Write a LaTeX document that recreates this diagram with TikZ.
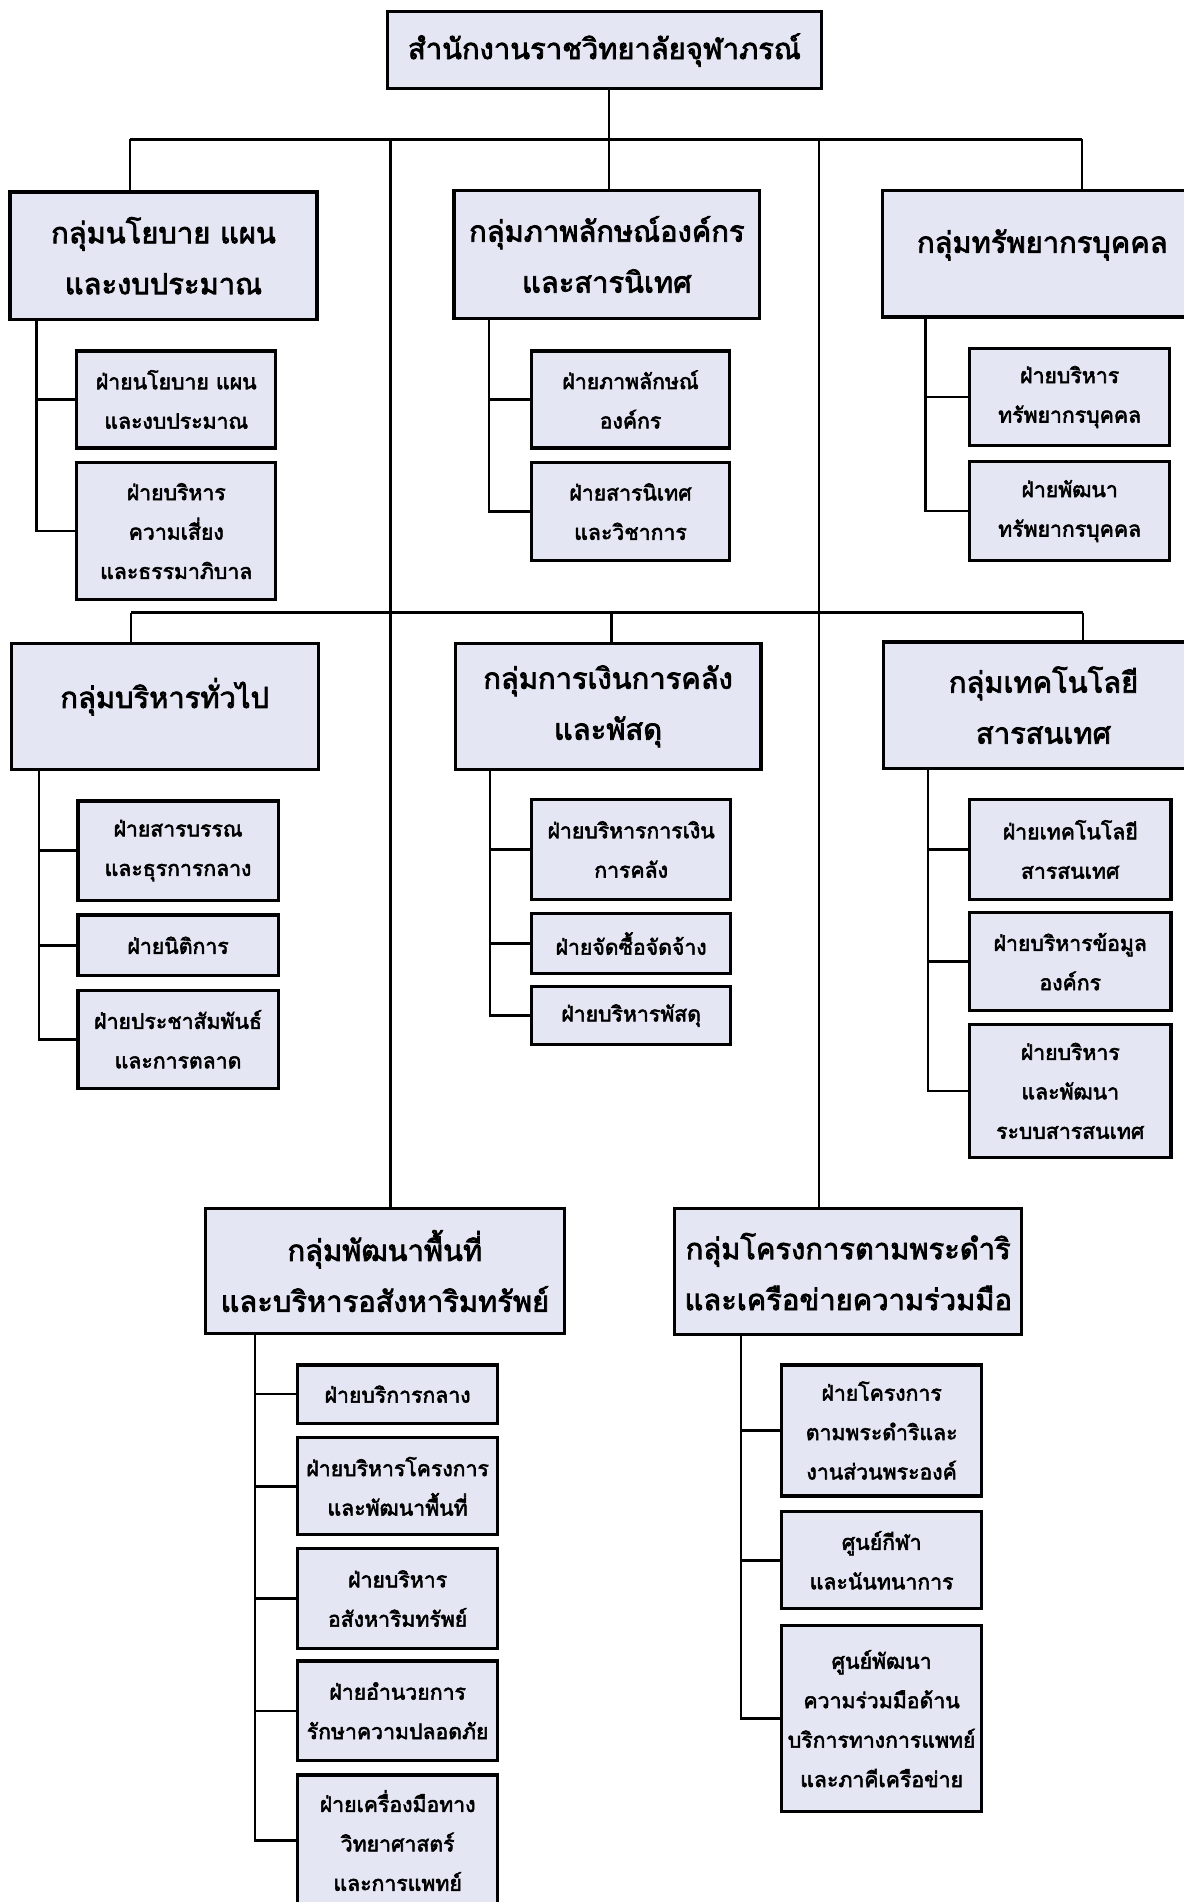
\documentclass[tikz,border=0pt]{standalone}
\usepackage{fontspec}
\newfontfamily\thaifont[Script=Thai,FakeBold=2.6]{Loma}
\definecolor{boxfill}{RGB}{228,231,243}
\begin{document}
\begin{tikzpicture}[x=1pt,y=-1pt,
  box/.style={draw=black, line width=2.6pt, fill=boxfill, inner sep=0pt, align=center, anchor=north west},
  grp/.style={box, font=\thaifont\fontsize{24}{42}\selectfont},
  topb/.style={box, font=\thaifont\fontsize{24}{42}\selectfont},
  sub/.style={box, font=\thaifont\fontsize{17.5}{32.5}\selectfont},
  conn/.style={line width=2pt}]
\path[use as bounding box] (0,0) rectangle (976,1568);
\clip (0,0) rectangle (976,1568);
\fill[white] (0,0) rectangle (976,1568);
% connector coordinates
\coordinate (bL) at (107,115);
\coordinate (bR) at (892,115);
\coordinate (bM) at (502,115);
\coordinate (l1) at (322,115);
\coordinate (l2) at (675,115);
\coordinate (cL) at (108,505);
\coordinate (cM) at (504,505);
\coordinate (cR) at (893,505);
\coordinate (vA) at (30,0);
\coordinate (vB) at (403,0);
\coordinate (vC) at (763,0);
\coordinate (vD) at (32,0);
\coordinate (vE) at (404,0);
\coordinate (vF) at (765,0);
\coordinate (vG) at (210,0);
\coordinate (vH) at (611,0);
% boxes
\node[topb, minimum width=358pt, minimum height=64pt] (top) at (318,8) {สำนักงานราชวิทยาลัยจุฬาภรณ์};
\node[grp, minimum width=253pt, minimum height=105pt] (A) at (7,157) {กลุ่มนโยบาย แผน\\และงบประมาณ};
\node[grp, minimum width=252pt, minimum height=105pt] (B) at (373,156) {กลุ่มภาพลักษณ์องค์กร\\และสารนิเทศ};
\node[grp, minimum width=264pt, minimum height=104pt, text width=250pt] (C) at (726,156) {\raisebox{21pt}{กลุ่มทรัพยากรบุคคล}};
\node[sub, minimum width=164pt, minimum height=80pt] (A1) at (62,288) {ฝ่ายนโยบาย แผน\\และงบประมาณ};
\node[sub, minimum width=164pt, minimum height=113pt] (A2) at (62,380) {ฝ่ายบริหาร\\ความเสี่ยง\\และธรรมาภิบาล};
\node[sub, minimum width=163pt, minimum height=80pt] (B1) at (437,288) {ฝ่ายภาพลักษณ์\\องค์กร};
\node[sub, minimum width=163pt, minimum height=81pt] (B2) at (437,380) {ฝ่ายสารนิเทศ\\และวิชาการ};
\node[sub, minimum width=165pt, minimum height=80pt] (C1) at (798,286) {ฝ่ายบริหาร\\ทรัพยากรบุคคล};
\node[sub, minimum width=165pt, minimum height=82pt] (C2) at (798,379) {ฝ่ายพัฒนา\\ทรัพยากรบุคคล};
\node[grp, minimum width=253pt, minimum height=104pt] (D) at (8,529) {\raisebox{22pt}{กลุ่มบริหารทั่วไป}};
\node[grp, minimum width=252pt, minimum height=104pt] (E) at (374,529) {กลุ่มการเงินการคลัง\\และพัสดุ};
\node[grp, minimum width=264pt, minimum height=104pt, text width=250pt] (F) at (727,528) {กลุ่มเทคโนโลยี\\สารสนเทศ};
\node[sub, minimum width=165pt, minimum height=82pt] (D1) at (63,659) {ฝ่ายสารบรรณ\\และธุรการกลาง};
\node[sub, minimum width=165pt, minimum height=50pt] (D2) at (63,753) {ฝ่ายนิติการ};
\node[sub, minimum width=165pt, minimum height=81pt] (D3) at (63,815) {ฝ่ายประชาสัมพันธ์\\และการตลาด};
\node[sub, minimum width=164pt, minimum height=82pt] (E1) at (437,658) {ฝ่ายบริหารการเงิน\\การคลัง};
\node[sub, minimum width=164pt, minimum height=49pt] (E2) at (437,752) {ฝ่ายจัดซื้อจัดจ้าง};
\node[sub, minimum width=164pt, minimum height=48pt] (E3) at (437,812) {ฝ่ายบริหารพัสดุ};
\node[sub, minimum width=166pt, minimum height=82pt] (F1) at (798,658) {ฝ่ายเทคโนโลยี\\สารสนเทศ};
\node[sub, minimum width=166pt, minimum height=81pt] (F2) at (798,751) {ฝ่ายบริหารข้อมูล\\องค์กร};
\node[sub, minimum width=166pt, minimum height=110pt] (F3) at (798,843) {ฝ่ายบริหาร\\และพัฒนา\\ระบบสารสนเทศ};
\node[grp, minimum width=296pt, minimum height=103pt] (G) at (168,995) {กลุ่มพัฒนาพื้นที่\\และบริหารอสังหาริมทรัพย์};
\node[grp, minimum width=286pt, minimum height=104pt] (H) at (555,995) {กลุ่มโครงการตามพระดำริ\\และเครือข่ายความร่วมมือ};
\node[sub, minimum width=165pt, minimum height=48pt] (G1) at (244,1124) {ฝ่ายบริการกลาง};
\node[sub, minimum width=165pt, minimum height=80pt] (G2) at (244,1184) {ฝ่ายบริหารโครงการ\\และพัฒนาพื้นที่};
\node[sub, minimum width=165pt, minimum height=83pt] (G3) at (244,1275) {ฝ่ายบริหาร\\อสังหาริมทรัพย์};
\node[sub, minimum width=165pt, minimum height=82pt] (G4) at (244,1368) {ฝ่ายอำนวยการ\\รักษาความปลอดภัย};
\node[sub, minimum width=165pt, minimum height=108pt] (G5) at (244,1462) {ฝ่ายเครื่องมือทาง\\วิทยาศาสตร์\\และการแพทย์};
\node[sub, minimum width=165pt, minimum height=108pt] (H1) at (643,1124) {ฝ่ายโครงการ\\ตามพระดำริและ\\งานส่วนพระองค์};
\node[sub, minimum width=165pt, minimum height=80pt] (H2) at (643,1245) {ศูนย์กีฬา\\และนันทนาการ};
\node[sub, minimum width=165pt, minimum height=153pt] (H3) at (643,1339) {ศูนย์พัฒนา\\ความร่วมมือด้าน\\บริการทางการแพทย์\\และภาคีเครือข่าย};
% top-level connectors
\draw[conn] (bL) -- (bR);
\draw[conn] (bM |- top.south) -- (bM |- B.north);
\draw[conn] (bL) -- (bL |- A.north);
\draw[conn] (bR) -- (bR |- C.north);
\draw[conn] (l1) -- (l1 |- G.north);
\draw[conn] (l2) -- (l2 |- H.north);
\draw[conn] (cL) -- (cR);
\draw[conn] (cL) -- (cL |- D.north);
\draw[conn] (cM) -- (cM |- E.north);
\draw[conn] (cR) -- (cR |- F.north);
% sub trees
\draw[conn] (vA |- A.south) -- (vA |- A2.west) -- (A2.west);
\draw[conn] (vA |- A1.west) -- (A1.west);
\draw[conn] (vB |- B.south) -- (vB |- B2.west) -- (B2.west);
\draw[conn] (vB |- B1.west) -- (B1.west);
\draw[conn] (vC |- C.south) -- (vC |- C2.west) -- (C2.west);
\draw[conn] (vC |- C1.west) -- (C1.west);
\draw[conn] (vD |- D.south) -- (vD |- D3.west) -- (D3.west);
\draw[conn] (vD |- D1.west) -- (D1.west);
\draw[conn] (vD |- D2.west) -- (D2.west);
\draw[conn] (vE |- E.south) -- (vE |- E3.west) -- (E3.west);
\draw[conn] (vE |- E1.west) -- (E1.west);
\draw[conn] (vE |- E2.west) -- (E2.west);
\draw[conn] (vF |- F.south) -- (vF |- F3.west) -- (F3.west);
\draw[conn] (vF |- F1.west) -- (F1.west);
\draw[conn] (vF |- F2.west) -- (F2.west);
\draw[conn] (vG |- G.south) -- (vG |- G5.west) -- (G5.west);
\draw[conn] (vG |- G1.west) -- (G1.west);
\draw[conn] (vG |- G2.west) -- (G2.west);
\draw[conn] (vG |- G3.west) -- (G3.west);
\draw[conn] (vG |- G4.west) -- (G4.west);
\draw[conn] (vH |- H.south) -- (vH |- H3.west) -- (H3.west);
\draw[conn] (vH |- H1.west) -- (H1.west);
\draw[conn] (vH |- H2.west) -- (H2.west);
\end{tikzpicture}
\end{document}
